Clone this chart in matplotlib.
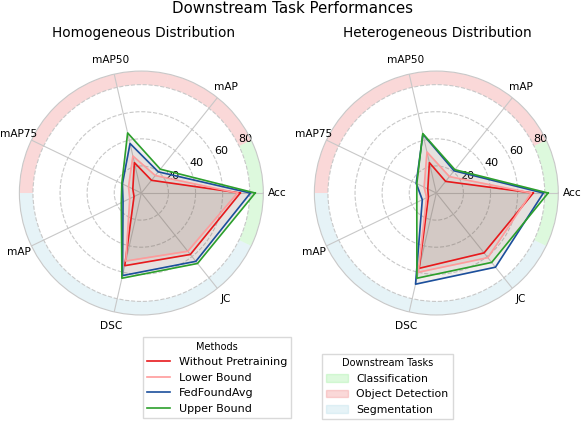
import matplotlib
matplotlib.use("Agg")
import matplotlib.pyplot as plt
import numpy as np
from matplotlib.lines import Line2D
from matplotlib.patches import Patch

"""Radar charts of downstream task performance for two data distributions"""

categories = ['Acc', 'mAP', 'mAP50', 'mAP75', 'mAP', 'DSC', 'JC']
task_of_category = ['Classification', 'Object Detection', 'Object Detection', 'Object Detection',
                    'Segmentation', 'Segmentation', 'Segmentation']
tasks = ['Classification', 'Object Detection', 'Segmentation']
task_colors = {'Classification': 'lightgreen', 'Object Detection': 'lightcoral', 'Segmentation': 'lightblue'}

methods = ['Without Pretraining', 'Lower Bound', 'FedFoundAvg', 'Upper Bound']
method_colors = ['#e8191c', '#ff9b9b', '#1b4f9c', '#2ca02c']

# values per method, order follows categories
homogeneous = {
    'Without Pretraining': [73, 12, 23, 7, 6, 55, 58],
    'Lower Bound': [71, 16.5, 28, 10.5, 9.5, 51.5, 55],
    'FedFoundAvg': [80.5, 20, 37.5, 15.5, 15, 62.5, 64.5],
    'Upper Bound': [84, 22.5, 45.5, 16, 16.4, 64.5, 66.5],
}
heterogeneous = {
    'Without Pretraining': [71.5, 11, 23, 7, 6.5, 57, 56.5],
    'Lower Bound': [70, 15.5, 31, 10, 8, 60, 61],
    'FedFoundAvg': [79, 21, 44.5, 16.5, 11.5, 69, 70],
    'Upper Bound': [82.5, 22, 45, 16, 16, 64.5, 65.5],
}

subtitles = ['Homogeneous Distribution', 'Heterogeneous Distribution']


def radar(ax, data):
    n = len(categories)
    angles = np.arange(n) * 2 * np.pi / n
    closed = np.concatenate([angles, angles[:1]])

    # task ring around the chart
    ring_colors = [task_colors[t] for t in task_of_category]
    ax.bar(angles, 10, width=2 * np.pi / n, bottom=80, color=ring_colors,
           alpha=0.3, edgecolor='none', zorder=0)

    for m, c in zip(methods, method_colors):
        vals = np.array(data[m] + data[m][:1])
        ax.plot(closed, vals, color=c, linewidth=1.2, zorder=3)
        ax.fill(closed, vals, color='#846a5e', alpha=0.1, zorder=2)

    ax.set_ylim(0, 90)
    ax.set_xticks(angles)
    ax.set_xticklabels([])
    # category labels just outside the ring, centred on each spoke
    for a, lab in zip(angles, categories):
        ax.text(a, 100.5, lab, fontsize=7.6, ha='center', va='center', clip_on=False)
    ax.set_yticks([20, 40, 60, 80])
    ax.set_yticklabels(['20', '40', '60', '80'], fontsize=8)
    ax.set_rlabel_position(27)
    ax.yaxis.grid(True, color='#c8c8c8', linestyle='--', linewidth=0.8)
    ax.xaxis.grid(True, color='#c8c8c8', linestyle='-', linewidth=0.8)
    ax.spines['polar'].set_color('#c8c8c8')
    ax.spines['polar'].set_linewidth(0.8)


fig = plt.figure(figsize=(5.86, 4.22), dpi=100)
ax1 = fig.add_axes([0.033, 0.2536, 0.4164, 0.578], projection='polar')
ax2 = fig.add_axes([0.5364, 0.2536, 0.4164, 0.578], projection='polar')
radar(ax1, homogeneous)
radar(ax2, heterogeneous)

fig.text(0.5, 0.981, 'Downstream Task Performances', ha='center', va='center', fontsize=10.8)
fig.text(0.2457, 0.922, subtitles[0], ha='center', va='center', fontsize=9.8)
fig.text(0.7466, 0.922, subtitles[1], ha='center', va='center', fontsize=9.8)

method_handles = [Line2D([0], [0], color=c, linewidth=1.2) for c in method_colors]
leg1 = fig.legend(method_handles, methods, title='Methods', loc='upper left',
                  bbox_to_anchor=(0.244, 0.201), borderaxespad=0, fontsize=8,
                  title_fontsize=7, fancybox=False, edgecolor='#d0d0d0',
                  handlelength=2.0, labelspacing=0.5)
task_handles = [Patch(facecolor=task_colors[t], alpha=0.3, edgecolor=task_colors[t]) for t in tasks]
leg2 = fig.legend(task_handles, tasks, title='Downstream Tasks', loc='upper left',
                  bbox_to_anchor=(0.549, 0.161), borderaxespad=0, fontsize=7.8,
                  title_fontsize=7, fancybox=False, edgecolor='#d0d0d0',
                  handlelength=2.0, labelspacing=0.5)

fig.savefig('out.png', dpi=100)
